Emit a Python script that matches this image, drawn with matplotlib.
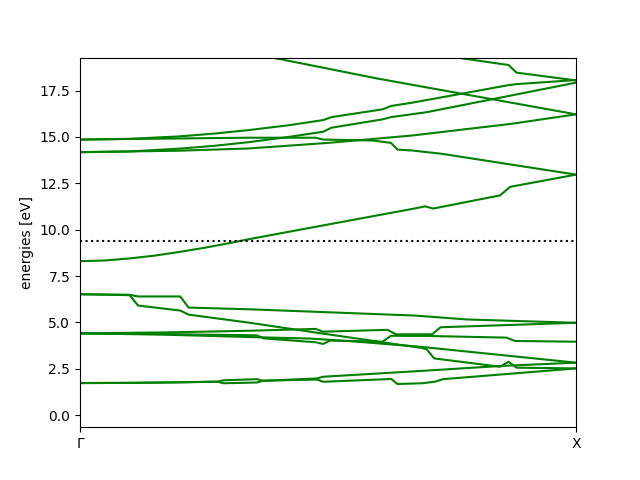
# Band structure along Gamma -> X

import numpy as np
from matplotlib import pyplot as plt

plt.rcParams['figure.figsize'] = (6.4, 4.8)
plt.rcParams['savefig.dpi'] = 100

# band data: k (0 = Gamma, 1 = X) and energy in eV
k_u1 = [0.3, 0.6, 1.0]
e_u1 = [19.75, 18.15, 16.22]
k_u2 = [0.7, 0.76, 0.864, 0.88, 1.0]
e_u2 = [19.5, 19.28, 18.88, 18.47, 18.05]

k_a = [0, 0.1, 0.2, 0.27, 0.34, 0.42, 0.49, 0.507, 0.61, 0.627, 0.67, 0.865, 0.88, 1.0]
e_a = [14.86, 14.9, 15.03, 15.18, 15.37, 15.63, 15.91, 16.07, 16.49, 16.67, 16.85, 17.8, 17.85, 18.07]
k_b = [0, 0.1, 0.2, 0.27, 0.34, 0.42, 0.49, 0.507, 0.61, 0.627, 0.70, 1.0]
e_b = [14.18, 14.22, 14.37, 14.52, 14.72, 15.0, 15.28, 15.5, 15.95, 16.07, 16.34, 17.93]
k_c = [0, 0.2, 0.34, 0.475, 0.49, 0.59, 0.627, 0.64, 0.67, 0.73, 1.0]
e_c = [14.86, 14.92, 14.96, 14.96, 14.86, 14.81, 14.68, 14.32, 14.27, 14.09, 12.97]
k_d = [0, 0.2, 0.34, 0.5, 0.67, 0.87, 1.0]
e_d = [14.18, 14.26, 14.38, 14.68, 15.08, 15.71, 16.22]

k_e = [0, 0.05, 0.1, 0.15, 0.2, 0.25, 0.3, 0.335, 0.5, 0.67, 0.696, 0.712, 0.847, 0.867, 1.0]
e_e = [8.30, 8.34, 8.45, 8.6, 8.8, 9.02, 9.27, 9.46, 10.28, 11.12, 11.26, 11.14, 11.85, 12.31, 12.97]

k_l1 = [0, 0.10, 0.117, 0.202, 0.219, 0.34, 0.675, 0.78, 1.0]
e_l1 = [6.52, 6.49, 6.40, 6.40, 5.80, 5.71, 5.37, 5.16, 4.98]
k_l2 = [0, 0.10, 0.117, 0.202, 0.219, 0.34, 0.484, 0.69, 0.699, 0.714, 0.847, 0.864, 0.88, 1.0]
e_l2 = [6.52, 6.47, 5.91, 5.64, 5.42, 4.99, 4.42, 3.62, 3.55, 3.06, 2.61, 2.88, 2.56, 2.52]

k_p = [0, 0.17, 0.34, 0.475, 0.49, 0.62, 0.637, 0.71, 0.727, 1.0]
e_p = [4.41, 4.46, 4.55, 4.65, 4.5, 4.6, 4.36, 4.36, 4.74, 4.98]
k_q = [0, 0.17, 0.34, 0.357, 0.37, 0.475, 0.49, 0.504, 0.61, 0.627, 0.70, 0.86, 0.877, 1.0]
e_q = [4.41, 4.37, 4.31, 4.30, 4.14, 3.93, 3.84, 4.02, 3.96, 4.28, 4.27, 4.18, 4.0, 3.96]
k_s = [0, 0.17, 0.33, 0.464, 0.55, 0.685, 1.0]
e_s = [4.41, 4.34, 4.22, 4.13, 3.98, 3.69, 2.83]

k_t = [0, 0.1, 0.2, 0.277, 0.29, 0.357, 0.37, 0.478, 0.49, 0.685, 0.847, 1.0]
e_t = [1.73, 1.74, 1.77, 1.81, 1.88, 1.94, 1.85, 1.98, 2.07, 2.38, 2.65, 2.83]
k_v = [0, 0.1, 0.2, 0.277, 0.29, 0.357, 0.37, 0.478, 0.49, 0.62, 0.627, 0.64, 0.69, 0.715, 0.732, 1.0]
e_v = [1.73, 1.74, 1.77, 1.80, 1.72, 1.76, 1.86, 1.92, 1.80, 1.94, 1.96, 1.68, 1.72, 1.80, 1.94, 2.52]

e_fermi = 9.38

bands = [(k_u1, e_u1), (k_u2, e_u2), (k_a, e_a), (k_b, e_b), (k_c, e_c), (k_d, e_d),
         (k_e, e_e), (k_l1, e_l1), (k_l2, e_l2), (k_p, e_p), (k_q, e_q), (k_s, e_s),
         (k_t, e_t), (k_v, e_v)]

fig, ax = plt.subplots()

for k, e in bands:
    ax.plot(k, e, color="green")

ax.axhline(e_fermi, color="black", linestyle=":")

ax.set_xlim(0, 1)
ax.set_ylim(-0.65, 19.28)
ax.set_xticks([0, 1])
ax.set_xticklabels(["Γ", "X"])
ax.set_ylabel("energies [eV]")

plt.savefig("out.png")
